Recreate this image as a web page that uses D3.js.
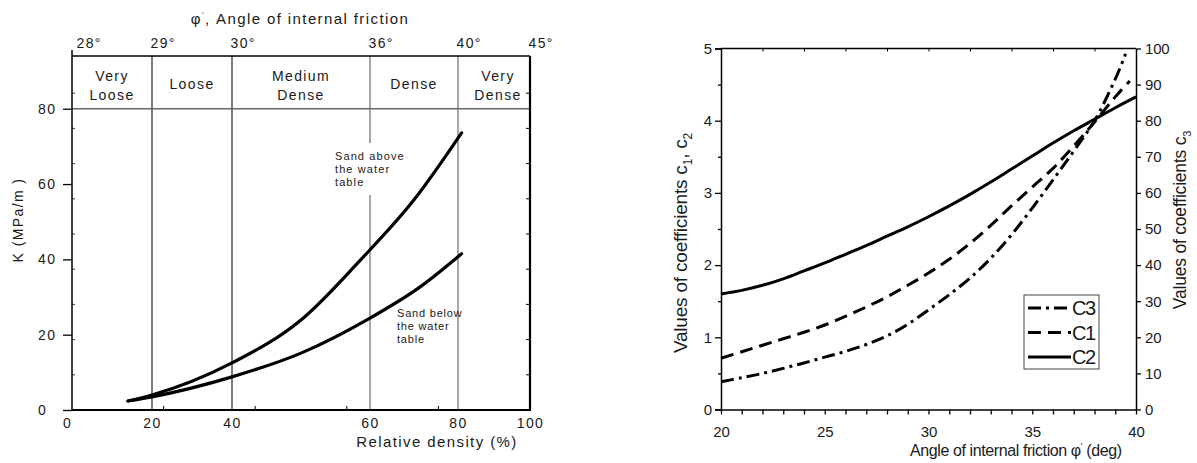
<!DOCTYPE html>
<html>
<head>
<meta charset="utf-8">
<title>Subgrade modulus and coefficients</title>
<script src="https://cdn.jsdelivr.net/npm/d3@7"></script>
<style>
	body { margin: 0; background: #fff; }
	svg text { font-family: "Liberation Sans", Arial, sans-serif; fill: #1a1a1a; }
	.left text { letter-spacing: 1.4px; font-size: 14px; }
	.right text { font-family: "Liberation Sans Narrow", "Liberation Sans", Arial, sans-serif; font-size: 15px; letter-spacing: -0.2px; }
	.tick line { stroke: #000; }
</style>
</head>
<body>
<svg id="chart" width="1197" height="463"></svg>
<script>
// left chart: K against relative density
var densityBreaks = [0, 20, 40, 60, 80, 100];
var phiLabels = ["28°", "29°", "30°", "36°", "40°", "45°"];
var densityClasses = [["Very", "Loose"], ["Loose"], ["Medium", "Dense"], ["Dense"], ["Very", "Dense"]];
var kTicks = [0, 20, 40, 60, 80];

var drAbove = [14, 20, 40, 50, 58.5, 70, 81];
var kAbove  = [2.4, 4.0, 12.5, 23.9, 39.6, 55.8, 73.6];
var drBelow = [14, 20, 40, 50, 60, 71.4, 81];
var kBelow  = [2.4, 3.5, 8.8, 15.1, 24.4, 32.7, 41.5];

// right chart: coefficients against friction angle
var phiC2 = [20, 21, 22, 23, 24, 25, 26, 27, 28, 29, 30, 31, 32, 33, 34, 35, 36, 37, 38, 39, 40];
var c2    = [1.60, 1.65, 1.72, 1.81, 1.92, 2.03, 2.15, 2.27, 2.40, 2.53, 2.67, 2.82, 2.98, 3.15, 3.33, 3.51, 3.69, 3.86, 4.02, 4.18, 4.33];
var phiC1 = [20, 21, 22, 23, 24, 25, 26, 27, 28, 29, 30, 31, 32, 33, 34, 35, 36, 37, 38, 39, 39.7];
var c1    = [0.71, 0.80, 0.89, 0.98, 1.07, 1.17, 1.29, 1.42, 1.56, 1.72, 1.89, 2.08, 2.30, 2.55, 2.82, 3.08, 3.34, 3.65, 3.98, 4.33, 4.55];
var phiC3 = [20, 21, 22, 23, 24, 25, 26, 27, 28, 29, 30, 31, 32, 33, 34, 35, 36, 37, 38, 39, 39.5];
var c3    = [7.7, 8.8, 10.0, 11.4, 12.9, 14.5, 16.1, 18.0, 20.4, 23.6, 27.6, 31.8, 36.4, 41.9, 48.4, 55.8, 63.6, 71.6, 80.0, 91.5, 98.5];
var legendNames = ["C3", "C1", "C2"];

var svg = d3.select("#chart");

/* ---------------- left chart ---------------- */
var left = svg.append("g").attr("class", "left");

// the density classes were placed by hand, so the axis is piecewise
var x1 = d3.scaleLinear().domain(densityBreaks).range([72, 152, 232, 370, 458, 530]);
var y1 = d3.scaleLinear().domain([0, 94]).range([410, 56]);
var xRaw = d3.scaleLinear().domain([0, 100]).range([72, 530]);
var yRaw = d3.scaleLinear().domain([0, 100]).range([410, 58]);

var top1 = y1.range()[1], bot1 = y1.range()[0];

// class separators
left.selectAll(".sep")
	.data(densityBreaks.slice(1, 5))
	.enter()
		.append("line")
		.attr("x1", function(d) { return x1(d); })
		.attr("x2", function(d) { return x1(d); })
		.attr("y1", top1)
		.attr("y2", bot1)
		.attr("stroke", function(d) { return d < 60 ? "#333" : "#777"; })
		.attr("stroke-width", 1.3);

left.append("line")
	.attr("x1", x1(0)).attr("x2", x1(100))
	.attr("y1", y1(80)).attr("y2", y1(80))
	.attr("stroke", "#666").attr("stroke-width", 1.5);

// small inner ticks left over from the original axes
left.selectAll(".itb")
	.data([20, 40, 60, 80])
	.enter().append("line")
		.attr("x1", function(d) { return xRaw(d); }).attr("x2", function(d) { return xRaw(d); })
		.attr("y1", bot1).attr("y2", bot1 - 4)
		.attr("stroke", "#000");

left.selectAll(".itr")
	.data(d3.range(10, 100, 10))
	.enter().append("line")
		.attr("x1", x1(100)).attr("x2", x1(100) - 4)
		.attr("y1", function(d) { return yRaw(d); }).attr("y2", function(d) { return yRaw(d); })
		.attr("stroke", "#000");

left.selectAll(".itl")
	.data(d3.range(10, 100, 10))
	.enter().append("line")
		.attr("x1", x1(0)).attr("x2", x1(0) + 3)
		.attr("y1", function(d) { return yRaw(d); }).attr("y2", function(d) { return yRaw(d); })
		.attr("stroke", "#444");

// frame
left.append("line").attr("x1", x1(0)).attr("x2", x1(100)).attr("y1", top1).attr("y2", top1).attr("stroke", "#000").attr("stroke-width", 1.5);
left.append("line").attr("x1", x1(0)).attr("x2", x1(100) + 1).attr("y1", bot1).attr("y2", bot1).attr("stroke", "#000").attr("stroke-width", 1.8);
left.append("line").attr("x1", x1(0)).attr("x2", x1(0)).attr("y1", top1 - 6).attr("y2", bot1).attr("stroke", "#000").attr("stroke-width", 1.5);
left.append("line").attr("x1", x1(100)).attr("x2", x1(100)).attr("y1", top1).attr("y2", bot1).attr("stroke", "#000").attr("stroke-width", 2.2);

// axes
left.append("g")
	.attr("transform", "translate(" + x1(0) + ",0)")
	.call(d3.axisLeft(y1).tickValues(kTicks).tickSize(9).tickSizeOuter(0))
	.call(function(g) { g.select(".domain").remove(); })
	.call(function(g) {
		g.selectAll("text").attr("text-anchor", "start").attr("x", -34);
		g.selectAll("line").attr("stroke-width", 1.3);
	});

left.append("g")
	.attr("transform", "translate(0," + bot1 + ")")
	.call(d3.axisBottom(x1).tickValues(densityBreaks).tickSize(0).tickPadding(8))
	.call(function(g) { g.select(".domain").remove(); })
	.call(function(g) { g.selectAll("text").filter(function(d) { return d == 0; }).attr("x", -5); });

left.append("g")
	.attr("transform", "translate(0," + top1 + ")")
	.call(d3.axisTop(x1).tickValues(densityBreaks).tickSize(0).tickPadding(8)
		.tickFormat(function(d, i) { return phiLabels[i]; }))
	.call(function(g) { g.select(".domain").remove(); })
	.call(function(g) { g.selectAll("text").attr("text-anchor", "start").attr("x", function(d) { return d == 0 ? 4 : -2; }); });

// class names inside the top band
var bands = left.selectAll(".band")
	.data(densityClasses)
	.enter()
		.append("text")
		.attr("text-anchor", "middle")
		.attr("transform", function(d, i) {
			var cx = (x1(densityBreaks[i]) + x1(densityBreaks[i + 1])) / 2 + (i == 4 ? 4 : 0);
			return "translate(" + cx + "," + (d.length > 1 ? 81 : 89) + ")";
		});

bands.selectAll("tspan")
	.data(function(d) { return d; })
	.enter()
		.append("tspan")
		.attr("x", 0)
		.attr("dy", function(d, i) { return i == 0 ? 0 : 19; })
		.text(function(d) { return d; });

// curves
var kLine = d3.line()
	.x(function(d) { return x1(d[0]); })
	.y(function(d) { return y1(d[1]); })
	.curve(d3.curveMonotoneX);

left.append("path")
	.attr("d", kLine(d3.zip(drAbove, kAbove)))
	.attr("fill", "none").attr("stroke", "#000")
	.attr("stroke-width", 3.2).attr("stroke-linecap", "round");

left.append("path")
	.attr("d", kLine(d3.zip(drBelow, kBelow)))
	.attr("fill", "none").attr("stroke", "#000")
	.attr("stroke-width", 3.2).attr("stroke-linecap", "round");

// annotations
left.append("rect")
	.attr("x", 333).attr("y", 143).attr("width", 76).attr("height", 52)
	.attr("fill", "#fff");

var note1 = left.append("text").attr("transform", "translate(335,160)").style("font-size", "11px").style("letter-spacing", "1.1px");
["Sand above", "the water", "table"].forEach(function(s, i) {
	note1.append("tspan").attr("x", 0).attr("dy", i == 0 ? 0 : 13).text(s);
});

var note2 = left.append("text").attr("transform", "translate(397,317)").style("font-size", "11px").style("letter-spacing", "0.8px");
["Sand below", "the water", "table"].forEach(function(s, i) {
	note2.append("tspan").attr("x", 0).attr("dy", i == 0 ? 0 : 13).text(s);
});

// titles
var t1 = left.append("text")
	.attr("x", 300).attr("y", 24)
	.attr("text-anchor", "middle")
	.style("font-size", "15px");
t1.append("tspan").text("φ");
t1.append("tspan").attr("dy", -7).style("font-size", "8px").text("'");
t1.append("tspan").attr("dy", 7).text(", Angle of internal friction");

left.append("text")
	.attr("text-anchor", "middle")
	.attr("transform", "translate(23,220) rotate(-90)")
	.text("K (MPa/m )");

left.append("text")
	.attr("x", 437).attr("y", 447)
	.attr("text-anchor", "middle")
	.style("font-size", "15px")
	.text("Relative density (%)");

/* ---------------- right chart ---------------- */
var right = svg.append("g").attr("class", "right");

var x2 = d3.scaleLinear().domain([20, 40]).range([721, 1136]);
var y2 = d3.scaleLinear().domain([0, 5]).range([409.5, 48.5]);
var y3 = d3.scaleLinear().domain([0, 100]).range([409.5, 48.5]);

right.append("line")
	.attr("x1", x2(20)).attr("x2", x2(40))
	.attr("y1", y2(5)).attr("y2", y2(5))
	.attr("stroke", "#000").attr("stroke-width", 1.5);

right.append("g")
	.attr("transform", "translate(0," + y2(5) + ")")
	.call(d3.axisBottom(x2).tickValues(d3.range(22, 40, 2)).tickSize(3).tickFormat(""))
	.call(function(g) { g.select(".domain").remove(); });

right.append("g")
	.attr("transform", "translate(0," + y2(0) + ")")
	.call(d3.axisBottom(x2).tickValues(d3.range(20, 41, 1)).tickSize(5).tickSizeOuter(0).tickPadding(12)
		.tickFormat(function(d) { return d % 5 == 0 ? d : ""; }))
	.call(function(g) {
		g.select(".domain").attr("stroke-width", 1.5);
		g.selectAll("line").attr("stroke-width", 1.3);
	});

right.append("g")
	.attr("transform", "translate(" + x2(20) + ",0)")
	.call(d3.axisLeft(y2).tickValues(d3.range(0, 5.01, 0.5)).tickSizeOuter(0).tickPadding(3)
		.tickSize(6).tickFormat(function(d) { return d % 1 == 0 ? d : ""; }))
	.call(function(g) {
		g.select(".domain").attr("stroke-width", 1.5);
		g.selectAll(".tick").filter(function(d) { return d % 1 != 0; }).select("line").attr("x2", -3);
		g.selectAll("line").attr("stroke-width", 1.3);
	});

right.append("g")
	.attr("transform", "translate(" + x2(40) + ",0)")
	.call(d3.axisRight(y3).tickValues(d3.range(0, 101, 10)).tickSize(5).tickSizeOuter(0).tickPadding(4))
	.call(function(g) {
		g.select(".domain").attr("stroke-width", 1.5);
		g.selectAll("line").attr("stroke-width", 1.3);
	});

var lineL = d3.line()
	.x(function(d) { return x2(d[0]); })
	.y(function(d) { return y2(d[1]); })
	.curve(d3.curveCatmullRom.alpha(0.5));

var lineR = d3.line()
	.x(function(d) { return x2(d[0]); })
	.y(function(d) { return y3(d[1]); })
	.curve(d3.curveCatmullRom.alpha(0.5));

var dashC3 = "13,5,3,5";
var dashC1 = "13,7";

right.append("path")
	.attr("d", lineR(d3.zip(phiC3, c3)))
	.attr("fill", "none").attr("stroke", "#000").attr("stroke-width", 3)
	.attr("stroke-dasharray", dashC3);

right.append("path")
	.attr("d", lineL(d3.zip(phiC1, c1)))
	.attr("fill", "none").attr("stroke", "#000").attr("stroke-width", 3)
	.attr("stroke-dasharray", dashC1);

right.append("path")
	.attr("d", lineL(d3.zip(phiC2, c2)))
	.attr("fill", "none").attr("stroke", "#000").attr("stroke-width", 3);

// legend
var legend = right.append("g").attr("transform", "translate(1024,295)");
legend.append("rect")
	.attr("width", 75).attr("height", 74)
	.attr("fill", "#fff").attr("stroke", "#444").attr("stroke-width", 1);

var dashes = [dashC3, dashC1, null];
var rows = legend.selectAll(".row")
	.data(legendNames)
	.enter()
		.append("g")
		.attr("transform", function(d, i) { return "translate(0," + (13 + i * 24.5) + ")"; });

rows.append("line")
	.attr("x1", 4).attr("x2", 47)
	.attr("stroke", "#000").attr("stroke-width", 3)
	.attr("stroke-dasharray", function(d, i) { return dashes[i]; });

rows.append("text")
	.attr("x", 48).attr("y", 7)
	.style("font-size", "20px").style("letter-spacing", "-1.4px")
	.text(function(d) { return d; });

// axis titles
var tl = right.append("text")
	.attr("text-anchor", "middle")
	.style("font-size", "19px")
	.attr("transform", "translate(687,243) rotate(-90)");
tl.append("tspan").text("Values of coefficients c");
tl.append("tspan").attr("dy", 5).style("font-size", "12px").text("1");
tl.append("tspan").attr("dy", -5).text(", c");
tl.append("tspan").attr("dy", 5).style("font-size", "12px").text("2");

var tr = right.append("text")
	.attr("text-anchor", "middle")
	.style("font-size", "17.5px")
	.attr("transform", "translate(1186,220) rotate(-90)");
tr.append("tspan").text("Values of coefficients c");
tr.append("tspan").attr("dy", 5).style("font-size", "11px").text("3");

var tb = right.append("text")
	.attr("x", 910).attr("y", 456)
	.style("font-size", "16px").style("letter-spacing", "-0.4px");
tb.append("tspan").text("Angle of internal friction φ");
tb.append("tspan").attr("dy", -7).style("font-size", "9px").text("'");
tb.append("tspan").attr("dy", 7).text(" (deg)");
</script>
</body>
</html>
